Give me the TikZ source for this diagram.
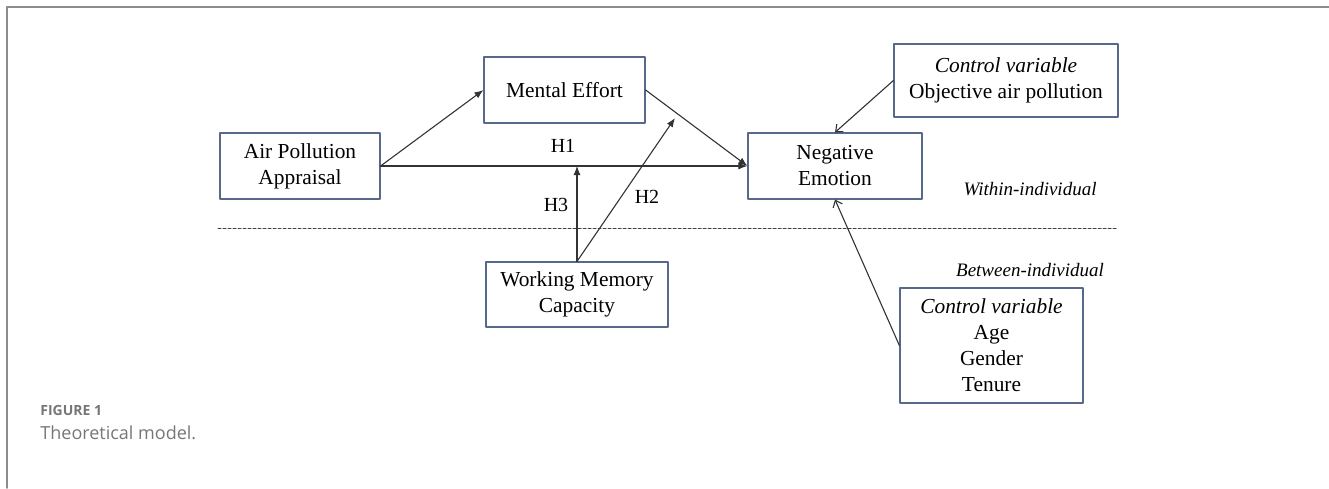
\documentclass[tikz,border=0pt]{standalone}
\usepackage{fontspec}
\setmainfont{Liberation Serif}
\newfontfamily\capfont{Open Sans}
\usepackage{xcolor}
\usetikzlibrary{calc,arrows.meta}
\definecolor{boxline}{RGB}{88,104,138}
\definecolor{framegray}{RGB}{140,140,140}
\definecolor{capgray}{RGB}{118,118,118}

\begin{document}
\begin{tikzpicture}[x=0.5pt, y=-0.5pt, line cap=round, line join=round,
    box/.style={draw=boxline, line width=0.6pt, align=center, inner sep=0pt,
                font=\fontsize{10.7}{13}\selectfont},
    link/.style={draw=black!80, line width=0.55pt, -{Latex[length=4.5pt,width=3.5pt]}},
    ctrl/.style={draw=black!80, line width=0.55pt, -{Straight Barb[length=3pt,width=5pt]}},
    lab/.style={font=\fontsize{10}{12}\selectfont},
    level/.style={font=\fontsize{9.5}{12}\selectfont\itshape}]

\useasboundingbox (0,0) rectangle (1329,488);

% ---------------------------------------------------------
% Outer frame (top and left rules)
% ---------------------------------------------------------
\draw[framegray, line width=0.75pt] (7,488) -- (7,7) -- (1329,7);

% ---------------------------------------------------------
% Variables
% ---------------------------------------------------------
\node[box, minimum width=80pt, minimum height=33pt]   (apa)  at (300,166)    {Air Pollution\\Appraisal};
\node[box, minimum width=80.5pt, minimum height=33pt] (me)   at (564.5,90)   {Mental Effort};
\node[box, minimum width=87pt, minimum height=33pt]   (ne)   at (835,166)    {Negative\\Emotion};
\node[box, minimum width=112pt, minimum height=36.5pt] (ctop) at (1006,80.5) {\textit{Control variable}\\Objective air pollution};
\node[box, minimum width=91pt, minimum height=32.5pt] (wmc)  at (577,294.5)  {Working Memory\\Capacity};
\node[box, minimum width=91.5pt, minimum height=57.5pt] (cbot) at (991.5,345.5) {\textit{Control variable}\\Age\\Gender\\Tenure};

% ---------------------------------------------------------
% Level separator
% ---------------------------------------------------------
\coordinate (DL) at (218,228);    % left end of dashed rule
\coordinate (DR) at (1118,228);   % right end of dashed rule
\draw[black!75, line width=0.5pt, dash pattern=on 1.5pt off 1pt] (DL) -- (DR);

\node[level] (within)  at (1030,189) {Within-individual};
\node[level] (between) at (1030,270) {Between-individual};

% ---------------------------------------------------------
% Paths
% ---------------------------------------------------------
\coordinate (H2tip) at (675,118); % moderation onto mental effort path

\draw[link] (apa.east) -- (me.west);
\draw[link] (apa.east) -- (ne.west);
\draw[link] (me.east) -- (ne.west);
\draw[link] (wmc.north) -- (wmc.north |- apa.east);
\draw[link] (wmc.north) -- (H2tip);

\draw[ctrl] (ctop.west) -- (ne.north);
\draw[ctrl] (cbot.west) -- (ne.south);

% ---------------------------------------------------------
% Hypothesis labels
% ---------------------------------------------------------
\node[lab] (h1) at (563,146) {H1};
\node[lab] (h3) at (556,205) {H3};
\node[lab] (h2) at (647,197) {H2};

% ---------------------------------------------------------
% Caption
% ---------------------------------------------------------
\node[anchor=base west, inner sep=0pt, text=capgray,
      font=\capfont\bfseries\fontsize{7}{8}\selectfont] (fig) at (40,415) {FIGURE 1};
\node[anchor=base west, inner sep=0pt, text=capgray,
      font=\capfont\fontsize{9}{11}\selectfont] (title) at (40,439) {Theoretical model.};

\end{tikzpicture}
\end{document}
